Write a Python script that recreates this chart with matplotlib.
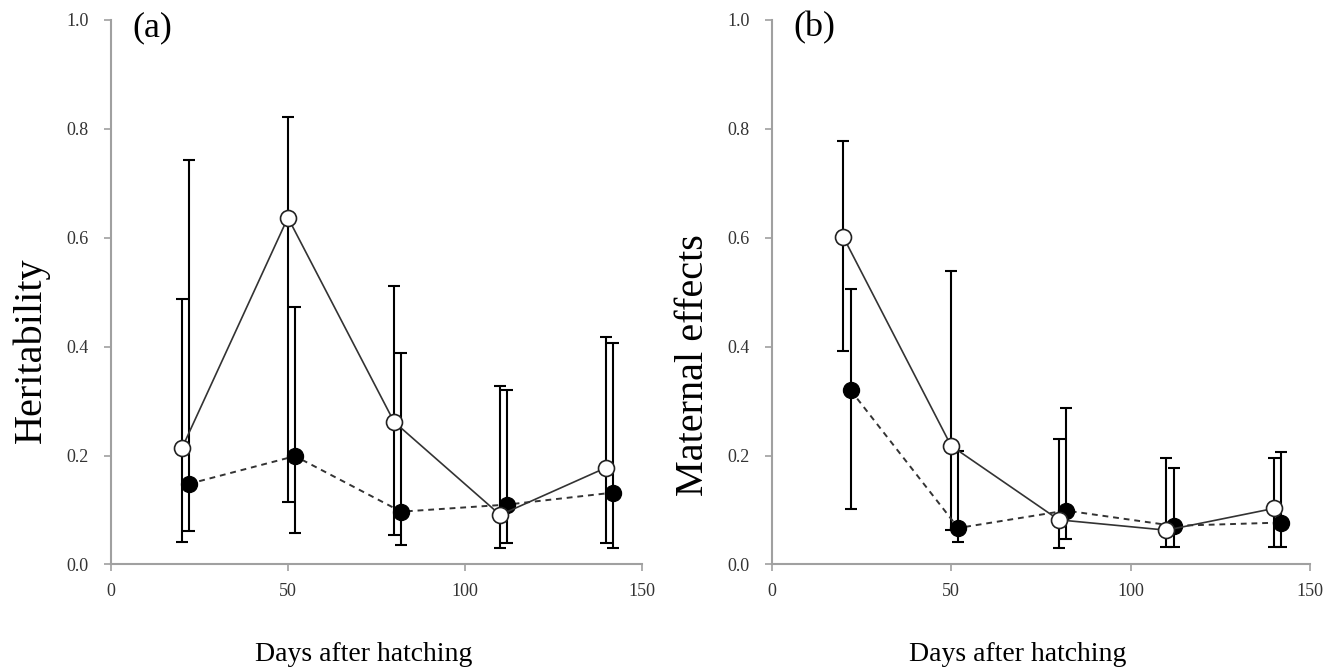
import numpy as np
import matplotlib
matplotlib.use('Agg')
import matplotlib.pyplot as plt

plt.rcParams['font.family'] = ['Liberation Serif', 'DejaVu Serif']

# Sampling days (filled series plotted slightly offset in the original)
DAYS_OPEN = [20, 50, 80, 110, 140]
DAYS_FILLED = [22, 52, 82, 112, 142]

# (a) Heritability
H_OPEN = [0.213, 0.637, 0.262, 0.091, 0.178]
H_OPEN_HI = [0.488, 0.821, 0.512, 0.327, 0.418]
H_OPEN_LO = [0.041, 0.114, 0.054, 0.030, 0.039]
H_FILLED = [0.148, 0.199, 0.097, 0.110, 0.132]
H_FILLED_HI = [0.742, 0.473, 0.389, 0.321, 0.406]
H_FILLED_LO = [0.062, 0.057, 0.035, 0.040, 0.030]

# (b) Maternal effects
M_OPEN = [0.601, 0.218, 0.082, 0.063, 0.103]
M_OPEN_HI = [0.777, 0.539, 0.230, 0.195, 0.195]
M_OPEN_LO = [0.392, 0.063, 0.030, 0.033, 0.033]
M_FILLED = [0.320, 0.067, 0.099, 0.071, 0.077]
M_FILLED_HI = [0.506, 0.209, 0.287, 0.177, 0.206]
M_FILLED_LO = [0.102, 0.041, 0.046, 0.033, 0.033]

PANELS = [
    ('(a)', 'Heritability', H_OPEN, H_OPEN_LO, H_OPEN_HI, H_FILLED, H_FILLED_LO, H_FILLED_HI),
    ('(b)', 'Maternal effects', M_OPEN, M_OPEN_LO, M_OPEN_HI, M_FILLED, M_FILLED_LO, M_FILLED_HI),
]

AX_RECTS = [[0.0831, 0.160, 0.3972, 0.8103], [0.5776, 0.160, 0.4029, 0.8103]]
# label positions in axes coords: (xlabel x, ylabel x, ylabel y)
LABEL_POS = [(0.477, -0.150, 0.394), (0.4575, -0.145, 0.366)]
SPINE_COLOR = '#a0a0a0'
TEXT_COLOR = '#333333'


def draw_series(ax, x, y, lo, hi, filled):
    y = np.array(y)
    yerr = [y - np.array(lo), np.array(hi) - y]
    ax.errorbar(x, y, yerr=yerr, fmt='none', ecolor='black', elinewidth=1.5,
                capsize=4, capthick=1.5, zorder=2)
    if filled:
        ax.plot(x, y, linestyle=(0, (3, 2.5)), color='#333333', linewidth=1.4,
                marker='o', markersize=11.5, markerfacecolor='black',
                markeredgecolor='black', markeredgewidth=1.0, zorder=3)
    else:
        ax.plot(x, y, linestyle='-', color='#333333', linewidth=1.2,
                marker='o', markersize=11.5, markerfacecolor='white',
                markeredgecolor='#222222', markeredgewidth=1.2, zorder=4)


fig = plt.figure(figsize=(13.36, 6.72), dpi=100)

for rect, lpos, (tag, ylabel, yo, yo_lo, yo_hi, yf, yf_lo, yf_hi) in zip(AX_RECTS, LABEL_POS, PANELS):
    ax = fig.add_axes(rect)
    draw_series(ax, DAYS_OPEN, yo, yo_lo, yo_hi, filled=False)
    draw_series(ax, DAYS_FILLED, yf, yf_lo, yf_hi, filled=True)

    ax.set_xlim(0, 150)
    ax.set_ylim(0, 1.0)
    ax.set_xticks([0, 50, 100, 150])
    ax.set_yticks(np.arange(0, 1.01, 0.2))
    ax.set_yticklabels([f'{v:.1f}' for v in np.arange(0, 1.01, 0.2)])

    for side in ['top', 'right']:
        ax.spines[side].set_visible(False)
    for side in ['left', 'bottom']:
        ax.spines[side].set_color(SPINE_COLOR)
        ax.spines[side].set_linewidth(1.5)
    ax.tick_params(axis='both', direction='out', length=5, width=1.2,
                   color=SPINE_COLOR, labelsize=13, labelcolor=TEXT_COLOR)
    ax.tick_params(axis='y', pad=11)
    ax.tick_params(axis='x', pad=8)

    ax.text(0.04, 0.985, tag, transform=ax.transAxes, fontsize=26,
            ha='left', va='center', color='black')
    ax.text(lpos[0], -0.166, 'Days after hatching', transform=ax.transAxes,
            fontsize=20, ha='center', va='center')
    ax.text(lpos[1], lpos[2], ylabel, transform=ax.transAxes, fontsize=29,
            rotation=90, ha='center', va='center')

plt.savefig('out.png', dpi=100)
plt.close()
